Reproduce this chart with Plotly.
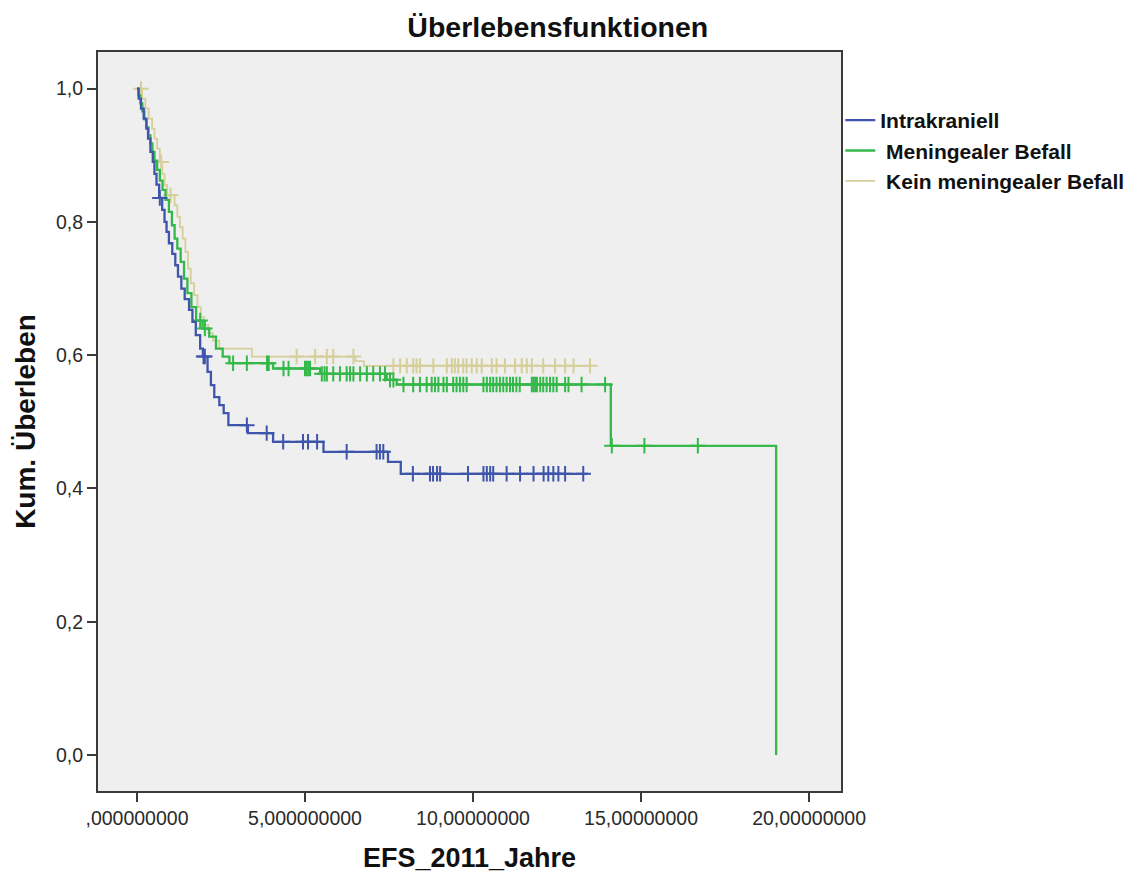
import numpy as np
import plotly.graph_objects as go

# Kaplan-Meier step data: event times (years) and survival after each event
blue_t = [0.05, 0.12, 0.20, 0.28, 0.33, 0.40, 0.47, 0.52, 0.58, 0.66, 0.75, 0.82, 0.88, 0.95,
          1.05, 1.14, 1.22, 1.32, 1.42, 1.55, 1.65, 1.75, 1.88, 1.96, 2.10, 2.20, 2.30, 2.45,
          2.58, 2.72, 3.30, 4.05, 5.55, 7.47, 7.85]
blue_s = [0.985, 0.970, 0.955, 0.940, 0.925, 0.905, 0.890, 0.872, 0.856, 0.836, 0.818, 0.800,
          0.785, 0.768, 0.752, 0.735, 0.718, 0.700, 0.684, 0.668, 0.650, 0.630, 0.610, 0.598,
          0.575, 0.555, 0.537, 0.525, 0.513, 0.495, 0.483, 0.470, 0.455, 0.440, 0.422]
blue_end = 13.42
blue_censor = [0.68, 1.98, 2.02, 3.27, 3.86, 4.35, 4.94, 5.09, 5.36, 6.24, 7.13, 7.23, 7.33,
               8.21, 8.72, 8.81, 8.93, 9.02, 9.85, 10.31, 10.41, 10.51, 10.60, 11.00, 11.40,
               11.80, 12.10, 12.24, 12.39, 12.54, 12.74, 13.28]

green_t = [0.04, 0.10, 0.16, 0.22, 0.28, 0.34, 0.40, 0.46, 0.52, 0.60, 0.68, 0.76, 0.85, 0.95,
           1.04, 1.12, 1.20, 1.30, 1.40, 1.50, 1.62, 1.76, 1.95, 2.15, 2.35, 2.55, 2.75, 4.05,
           5.45, 7.43, 7.73, 14.10, 19.02]
green_s = [0.990, 0.978, 0.966, 0.954, 0.942, 0.930, 0.918, 0.905, 0.892, 0.878, 0.862, 0.848,
           0.833, 0.815, 0.795, 0.775, 0.760, 0.740, 0.715, 0.693, 0.672, 0.652, 0.640, 0.628,
           0.610, 0.598, 0.588, 0.580, 0.572, 0.563, 0.556, 0.464, 0.0]
green_end = 19.02
green_censor = [1.88, 2.02, 2.86, 3.27, 3.87, 3.92, 4.36, 4.51, 5.00, 5.05, 5.10, 5.15, 5.50,
                5.58, 5.65, 5.84, 6.04, 6.24, 6.34, 6.44, 6.64, 6.84, 7.03, 7.23, 7.38, 7.53,
                7.63, 7.93, 8.22, 8.42, 8.62, 8.77, 8.87, 8.97, 9.12, 9.22, 9.41, 9.51, 9.61,
                9.71, 9.81, 10.31, 10.41, 10.51, 10.60, 10.70, 10.80, 10.90, 11.00, 11.10,
                11.19, 11.29, 11.39, 11.75, 11.80, 11.85, 11.90, 12.00, 12.09, 12.19, 12.29,
                12.39, 12.49, 12.74, 12.84, 13.23, 13.93, 14.13, 15.10, 16.69]

tan_t = [0.15, 0.25, 0.35, 0.45, 0.52, 0.60, 0.68, 0.75, 0.82, 0.90, 1.12, 1.20, 1.28, 1.36,
         1.44, 1.52, 1.60, 1.70, 1.80, 1.90, 2.00, 2.12, 2.26, 2.45, 3.42, 6.50, 6.75]
tan_s = [0.985, 0.970, 0.955, 0.940, 0.925, 0.910, 0.890, 0.872, 0.855, 0.840, 0.825, 0.808,
         0.792, 0.775, 0.755, 0.730, 0.708, 0.690, 0.672, 0.657, 0.645, 0.633, 0.622, 0.610,
         0.598, 0.591, 0.584]
tan_end = 13.53
tan_censor = [0.12, 0.72, 1.00, 4.75, 5.30, 5.65, 5.84, 6.44, 7.63, 7.83, 8.03, 8.22, 8.32,
              8.42, 8.82, 9.22, 9.37, 9.46, 9.56, 9.71, 9.81, 9.96, 10.11, 10.26, 10.56, 10.70,
              10.95, 11.25, 11.45, 11.60, 11.75, 12.09, 12.44, 12.74, 12.99, 13.48]

group_names = ["Intrakraniell", " Meningealer Befall", " Kein meningealer Befall"]
group_colors = ["#3e55ab", "#35b84a", "#d6cf9a"]
group_widths = [2.3, 2.3, 1.8]

y_tickvals = [0.0, 0.2, 0.4, 0.6, 0.8, 1.0]
y_ticktext = ["0,0", "0,2", "0,4", "0,6", "0,8", "1,0"]
x_tickvals = [0, 5, 10, 15, 20]
x_ticktext = [",000000000", "5,000000000", "10,00000000", "15,00000000", "20,00000000"]


def step_value(times, surv, t):
    """Survival estimate at time t for a right-continuous step function."""
    idx = np.searchsorted(np.asarray(times), t, side="right") - 1
    return 1.0 if idx < 0 else surv[idx]


groups = [
    (blue_t, blue_s, blue_end, blue_censor),
    (green_t, green_s, green_end, green_censor),
    (tan_t, tan_s, tan_end, tan_censor),
]

fig = go.Figure()
# draw the tan curve first so the other two sit on top of it
order = [2, 1, 0]
for i in order:
    t, s, end, cens = groups[i]
    xs = [0.0] + list(t) + ([end] if end > t[-1] else [])
    ys = [1.0] + list(s) + ([s[-1]] if end > t[-1] else [])
    fig.add_trace(go.Scatter(
        x=xs, y=ys, mode="lines", line=dict(shape="hv", color=group_colors[i],
                                              width=group_widths[i]),
        name=group_names[i], legendgroup=str(i), legendrank=i + 1, hoverinfo="skip",
    ))
    cy = [step_value(t, s, c) for c in cens]
    fig.add_trace(go.Scatter(
        x=cens, y=cy, mode="markers", showlegend=False, legendgroup=str(i),
        marker=dict(symbol="cross-thin", size=11, color=group_colors[i],
                    line=dict(color=group_colors[i], width=2)),
        hoverinfo="skip",
    ))

axis_common = dict(
    showgrid=False, zeroline=False, showline=True, mirror=True,
    linecolor="#3a3a3a", linewidth=2, ticks="outside", ticklen=9, tickwidth=2,
    tickcolor="#3a3a3a", tickfont=dict(family="Arial", size=19.5, color="#2a2a2a"),
)

fig.update_layout(
    width=1143, height=877,
    margin=dict(l=98, r=302, t=52, b=86, autoexpand=False),
    paper_bgcolor="white", plot_bgcolor="#efefef",
    title=dict(text="<b>Überlebensfunktionen</b>", xref="container", x=0.488,
               xanchor="center", yref="container", y=1 - 27 / 877, yanchor="middle",
               font=dict(family="Arial", size=28.5, color="#111111")),
    xaxis=dict(range=[-1.16, 20.95], tickvals=x_tickvals, ticktext=x_ticktext,
               title=dict(text="<b>EFS_2011_Jahre</b>", standoff=20,
                          font=dict(family="Arial", size=27, color="#111111")),
               **axis_common),
    yaxis=dict(range=[-0.054, 1.055], tickvals=y_tickvals, ticktext=y_ticktext,
               title=dict(text="<b>Kum. Überleben</b>", standoff=12,
                          font=dict(family="Arial", size=28, color="#111111")),
               **axis_common),
    legend=dict(x=0.999, xanchor="left", y=0.935, yanchor="top", bgcolor="rgba(0,0,0,0)",
                font=dict(family="Arial", size=21, color="#111111", weight="bold"),
                traceorder="normal", itemwidth=30),
    showlegend=True,
)

fig.write_html("out.html")
